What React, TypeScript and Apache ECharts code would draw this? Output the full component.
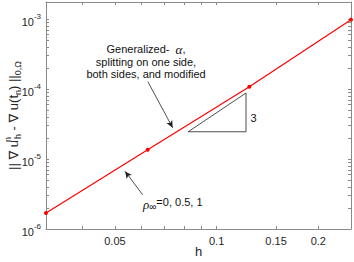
import React, { useEffect, useRef } from 'react';
import * as echarts from 'echarts';

// ---- data (real, un-logged values) ----
const hValues = [1 / 32, 1 / 16, 1 / 8, 1 / 4];
const errValues = [1.69e-6, 1.36e-5, 1.08e-4, 9.8e-4];

const xRange = [1 / 32, 0.25];
const yRange = [1e-6, 1.75e-3];

const xLabelTicks = [0.05, 0.1, 0.15, 0.2];
const xAllTicks = [0.04, 0.05, 0.06, 0.07, 0.08, 0.09, 0.1, 0.15, 0.2];
const yDecades = [-6, -5, -4, -3];
const yMantissas = [1, 2, 3, 4, 5, 6, 7, 8, 9];

const triangleH = [0.0824, 0.1222, 0.1222, 0.0824];
const triangleErr = [2.45e-5, 2.45e-5, 8.77e-5, 2.45e-5];

const arrow1From = [0.0626, 1.27e-4];
const arrow1To = [0.0741, 2.8e-5];
const arrow2From = [0.0604, 3.09e-6];
const arrow2To = [0.0536, 6.65e-6];

const L = (v: number) => Math.log10(v);

const FONT = "'Liberation Sans', Arial, 'DejaVu Sans', sans-serif";
const SERIF = "'Liberation Serif', 'DejaVu Serif', serif";
const AXIS_COLOR = '#8a8a8a';
const TEXT_COLOR = '#262626';

export default function App() {
  const ref = useRef<HTMLDivElement>(null);
  useEffect(() => {
    if (!ref.current) return;
    const chart = echarts.init(ref.current, null, { renderer: 'svg' });

    const yAllTicks: number[] = [];
    yDecades.forEach((d) => {
      yMantissas.forEach((m) => {
        const v = m * Math.pow(10, d);
        if (v >= yRange[0] && v <= yRange[1]) yAllTicks.push(L(v));
      });
    });

    const xMin = L(xRange[0]);
    const xMax = L(xRange[1]);
    const yMin = L(yRange[0]);
    const yMax = L(yRange[1]);

    const lineStyle = { color: AXIS_COLOR, width: 1 };

    const xBase = {
      type: 'value',
      min: xMin,
      max: xMax,
      splitLine: { show: false },
      axisLine: { show: true, onZero: false, lineStyle },
      axisTick: { show: true, inside: true, length: 3, customValues: xAllTicks.map(L), lineStyle },
    };
    const yBase = {
      type: 'value',
      min: yMin,
      max: yMax,
      splitLine: { show: false },
      axisLine: { show: true, onZero: false, lineStyle },
      axisTick: { show: true, inside: true, length: 3, customValues: yAllTicks, lineStyle },
    };

    chart.setOption({
      animation: false,
      grid: { left: 46, right: 3, top: 2, bottom: 33, containLabel: false, outerBoundsMode: 'none' },
      xAxis: [
        {
          ...xBase,
          position: 'bottom',
          axisLabel: {
            customValues: xLabelTicks.map(L),
            formatter: (v: number) => String(Number(Math.pow(10, v).toFixed(2))),
            color: TEXT_COLOR,
            fontFamily: FONT,
            fontSize: 11,
            margin: 6,
          },
          name: 'h',
          nameLocation: 'middle',
          nameGap: 16,
          nameMoveOverlap: false,
          nameTextStyle: { color: TEXT_COLOR, fontFamily: FONT, fontSize: 13 },
        },
        { ...xBase, position: 'top', axisLabel: { show: false } },
      ],
      yAxis: [
        {
          ...yBase,
          position: 'left',
          axisLabel: {
            customValues: yDecades,
            formatter: (v: number) => `{b|10}{s|${Math.round(v)}}`,
            margin: 5,
            rich: {
              b: { fontSize: 11, fontFamily: FONT, color: TEXT_COLOR, lineHeight: 12, padding: [6, 0, 0, 0] },
              s: { fontSize: 8, fontFamily: FONT, color: TEXT_COLOR, lineHeight: 9, padding: [2, 0, 7, 0] },
            },
          },
          name: '{t||| ∇ u}{sp|n}{sb|h}{t| - ∇ u(t}{sb|n}{t|) ||}{sb|0,Ω}',
          nameLocation: 'middle',
          nameRotate: 90,
          nameGap: 26,
          nameMoveOverlap: false,
          nameTextStyle: {
            rich: {
              t: { fontSize: 13, fontFamily: FONT, color: TEXT_COLOR, lineHeight: 14, padding: [3, 0, 3, 0] },
              sp: { fontSize: 9, fontFamily: FONT, color: TEXT_COLOR, lineHeight: 10, padding: [0, 0, 10, 0], width: 1 },
              sb: { fontSize: 9, fontFamily: FONT, color: TEXT_COLOR, lineHeight: 10, padding: [10, 0, 0, 0] },
            },
          },
        },
        { ...yBase, position: 'right', axisLabel: { show: false } },
      ],
      series: [
        {
          type: 'line',
          xAxisIndex: 0,
          yAxisIndex: 0,
          data: hValues.map((h, i) => [L(h), L(errValues[i])]),
          lineStyle: { color: '#ff0000', width: 1.2 },
          itemStyle: { color: '#ff0000' },
          symbol: 'circle',
          symbolSize: 4,
          showSymbol: true,
          silent: true,
          z: 5,
        },
        {
          type: 'line',
          xAxisIndex: 0,
          yAxisIndex: 0,
          data: triangleH.map((h, i) => [L(h), L(triangleErr[i])]),
          lineStyle: { color: '#222222', width: 0.8 },
          symbol: 'none',
          silent: true,
          markLine: {
            silent: true,
            animation: false,
            symbol: ['none', 'arrow'],
            symbolSize: [5, 7],
            label: { show: false },
            lineStyle: { color: '#222222', width: 0.8, type: 'solid' },
            data: [
              [
                { coord: [L(arrow1From[0]), L(arrow1From[1])] },
                { coord: [L(arrow1To[0]), L(arrow1To[1])] },
              ],
              [
                { coord: [L(arrow2From[0]), L(arrow2From[1])] },
                { coord: [L(arrow2To[0]), L(arrow2To[1])] },
              ],
            ],
          },
        },
      ],
      graphic: [
        {
          type: 'text',
          x: 146,
          y: 61.7,
          silent: true,
          style: {
            text: '{t|Generalized-  }{g|α}{t|,}\n{t|splitting on one side,}\n{t|both sides, and modified}',
            align: 'center',
            verticalAlign: 'middle',
            fill: '#111',
            rich: {
              t: { fontSize: 11, fontFamily: FONT, fill: '#111', lineHeight: 12.3 },
              g: { fontSize: 13, fontFamily: SERIF, fontStyle: 'italic', fill: '#111', lineHeight: 12.3 },
            },
          },
        },
        {
          type: 'text',
          x: 253.5,
          y: 118,
          silent: true,
          style: {
            text: '3',
            align: 'center',
            verticalAlign: 'middle',
            fill: '#111',
            font: `11px ${FONT}`,
          },
        },
        {
          type: 'text',
          x: 143,
          y: 203,
          silent: true,
          style: {
            text: '{r|ρ}{sb|∞}{t|=0, 0.5, 1}',
            align: 'left',
            verticalAlign: 'middle',
            rich: {
              t: { fontSize: 11, fontFamily: FONT, fill: '#111', lineHeight: 12, padding: [0, 0, 2, 0] },
              r: { fontSize: 13, fontFamily: SERIF, fontStyle: 'italic', fill: '#111', lineHeight: 12, padding: [2, 0, 0, 0] },
              sb: { fontSize: 10, fontFamily: FONT, fill: '#111', lineHeight: 10, padding: [6, 0, 0, 0] },
            },
          },
        },
      ],
    });
    return () => chart.dispose();
  }, []);

  return (
    <div
      ref={ref}
      style={{ position: 'fixed', left: 0, top: 0, width: 354, height: 262, background: '#fff' }}
    />
  );
}
